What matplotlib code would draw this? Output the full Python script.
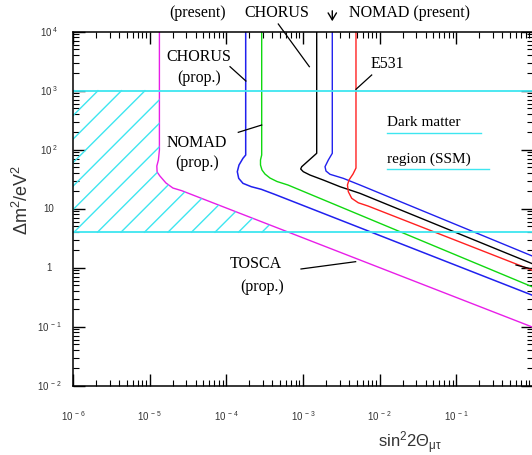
import numpy as np
import matplotlib
matplotlib.use("Agg")
import matplotlib.pyplot as plt
import matplotlib.patches as mpatches
from matplotlib.ticker import LogLocator, NullFormatter
from matplotlib.transforms import blended_transform_factory

plt.rcParams['mathtext.fontset'] = 'custom'
plt.rcParams['mathtext.rm'] = 'Liberation Sans'
plt.rcParams['mathtext.it'] = 'Liberation Sans:italic'
plt.rcParams['mathtext.bf'] = 'Liberation Sans:bold'
plt.rcParams['mathtext.default'] = 'regular'

# ---------------- data ----------------
tosca_x = [1.34e-5, 1.34e-5, 1.30e-5, 1.24e-5, 1.25e-5, 1.36e-5, 1.63e-5, 2.01e-5, 2.62e-5, 1.0]
tosca_y = [1e4, 98.9, 66.9, 52.9, 41.9, 35.8, 27.3, 22.4, 20.2, 0.0977]

chorus_prop_x = [1.789e-4, 1.789e-4, 1.648e-4, 1.463e-4, 1.390e-4, 1.450e-4, 1.648e-4, 2.117e-4, 2.858e-4, 4.275e-4, 1.0]
chorus_prop_y = [1e4, 81.3, 71.5, 55.0, 42.4, 32.7, 26.9, 23.6, 21.3, 17.5, 0.338]

nomad_prop_x = [2.892e-4, 2.892e-4, 2.790e-4, 2.790e-4, 2.918e-4, 3.192e-4, 3.709e-4, 4.58e-4, 6.37e-4, 1.0]
nomad_prop_y = [1e4, 81.3, 66.9, 55.0, 45.3, 38.7, 33.1, 28.9, 25.2, 0.469]

chorus_x = [1.509e-3, 1.509e-3, 9.62e-4, 9.33e-4, 1.009e-3, 1.234e-3, 1.840e-3, 3.04e-3, 5.54e-3, 1.0]
chorus_y = [1e4, 86.9, 51.5, 47.1, 42.4, 37.2, 30.6, 23.6, 18.2, 1.156]

nomad_x = [2.41e-3, 2.41e-3, 2.14e-3, 1.937e-3, 1.995e-3, 2.249e-3, 3.354e-3, 5.54e-3, 1.0]
nomad_y = [1e4, 86.9, 66.9, 51.5, 43.5, 38.3, 32.7, 25.2, 1.56]

e531_x = [4.91e-3, 4.91e-3, 4.49e-3, 3.98e-3, 3.80e-3, 3.90e-3, 4.32e-3, 5.26e-3, 7.05e-3, 1.0]
e531_y = [1e4, 48.9, 38.7, 30.6, 25.2, 19.4, 15.0, 12.6, 11.1, 0.893]

dm_band = [4.0, 1000.0]          # cyan horizontal lines (SSM dark-matter band)

xtick_vals = [1e-6, 1e-5, 1e-4, 1e-3, 1e-2, 1e-1]
xtick_labels = [r'10$^{\ -6}$', r'10$^{\ -5}$', r'10$^{\ -4}$', r'10$^{\ -3}$', r'10$^{\ -2}$', r'10$^{\ -1}$']
ytick_vals = [1e-2, 1e-1, 1, 10, 1e2, 1e3, 1e4]
ytick_labels = [r'10$^{\ -2}$', r'10$^{\ -1}$', '1', '10', r'10$^{\ 2}$', r'10$^{\ 3}$', r'10$^{\ 4}$']

# ---------------- figure ----------------
W, H = 532, 455
fig = plt.figure(figsize=(W / 100, H / 100), dpi=100)
ax_l, ax_b, ax_w, ax_h = 73, 455 - 385.7, 460, 354
ax = fig.add_axes([ax_l / W, ax_b / H, ax_w / W, ax_h / H])
ax.set_xscale('log')
ax.set_yscale('log')
ax.set_xlim(1e-6, 1)
ax.set_ylim(1e-2, 1e4)

CYAN = '#3ee6f0'
MAG = '#e81ee8'
BLUE = '#2020ee'
GREEN = '#10d810'
RED = '#ff2020'

# curves
ax.plot(tosca_x, tosca_y, color=MAG, lw=1.0)
ax.plot(chorus_prop_x, chorus_prop_y, color=BLUE, lw=1.1)
ax.plot(nomad_prop_x, nomad_prop_y, color=GREEN, lw=1.0)
ax.plot(chorus_x, chorus_y, color='black', lw=1.0)
ax.plot(nomad_x, nomad_y, color=BLUE, lw=1.0)
ax.plot(e531_x, e531_y, color=RED, lw=1.0)

# cyan band lines
for yv in dm_band:
    ax.axhline(yv, color=CYAN, lw=1.3)

# hatching between band and TOSCA curve
verts = list(zip(tosca_x, tosca_y)) + [(1e-8, tosca_y[-1]), (1e-8, tosca_y[0])]
clip = mpatches.Polygon(verts, closed=True, transform=ax.transData)
yb = (np.log10(dm_band[0]) + 2) / 6
yt = (np.log10(dm_band[1]) + 2) / 6
band_h = (yt - yb) * ax_h
for k in range(-8, 14):
    x0 = 1 + 23.5 * k
    ln, = ax.plot([x0 / ax_w, (x0 + band_h) / ax_w], [yb, yt], transform=ax.transAxes,
                  color=CYAN, lw=1.0)
    ln.set_clip_path(clip)

# ticks
ax.xaxis.set_major_locator(LogLocator(base=10, numticks=20))
ax.yaxis.set_major_locator(LogLocator(base=10, numticks=20))
ax.xaxis.set_minor_locator(LogLocator(base=10, subs=np.arange(2, 10), numticks=20))
ax.yaxis.set_minor_locator(LogLocator(base=10, subs=np.arange(2, 10), numticks=20))
ax.xaxis.set_minor_formatter(NullFormatter())
ax.yaxis.set_minor_formatter(NullFormatter())
ax.tick_params(which='both', direction='in', top=True, right=True,
               labelbottom=False, labelleft=False)
ax.tick_params(which='major', length=8.5, width=1.0)
ax.tick_params(which='minor', length=4.5, width=0.8)
for s in ax.spines.values():
    s.set_linewidth(1.1)

tick_font = dict(family='Liberation Sans', fontsize=7, color='#333333')
tx = blended_transform_factory(ax.transData, ax.transAxes)
for v, lab in zip(xtick_vals, xtick_labels):
    ax.text(v, -30 / ax_h, lab, transform=tx, ha='center', va='center', **tick_font)
ty = blended_transform_factory(ax.transAxes, ax.transData)
for v, lab in zip(ytick_vals, ytick_labels):
    ax.text(-24 / ax_w, v, lab, transform=ty, ha='center', va='center', **tick_font)

# axis labels
fig.text(21.5 / W, 1 - 200 / H, 'Δm$^2$/eV$^2$', rotation=90, ha='center', va='center',
         family='Liberation Sans', fontsize=13, color='#333333')
fig.text(410 / W, 1 - 448 / H, r'sin$^2$2$\Theta_{\mu\tau}$', ha='center', va='baseline',
         family='Liberation Sans', fontsize=12, color='#333333')

# annotations
serif = dict(family='Liberation Serif', fontsize=11.5, color='black')
ax.text(4.27e-5, 1.0528, '(present)', transform=tx, ha='center', va='center', **serif)
ax.text(4.58e-4, 1.0528, 'CHORUS', transform=tx, ha='center', va='center', **serif)
ax.text(2.486e-2, 1.0528, 'NOMAD (present)', transform=tx, ha='center', va='center', **serif)
ax.text(4.40e-5, 3725, 'CHORUS', ha='center', va='center', **serif)
ax.text(4.40e-5, 1641, '(prop.)', ha='center', va='center', **serif)
ax.text(4.14e-5, 130, 'NOMAD', ha='center', va='center', **serif)
ax.text(4.14e-5, 59.6, '(prop.)', ha='center', va='center', **serif)
ax.text(1.265e-2, 2835, 'E531', ha='center', va='center', **serif)
ax.text(2.40e-4, 1.142, 'TOSCA', ha='center', va='center', **serif)
ax.text(2.92e-4, 0.476, '(prop.)', ha='center', va='center', **serif)
ax.text(1.246e-2, 287, 'Dark matter', ha='left', va='center', family='Liberation Serif', fontsize=11)
ax.text(1.246e-2, 68.7, 'region (SSM)', ha='left', va='center', family='Liberation Serif', fontsize=11)
ax.plot([1.246e-2, 0.2097], [190, 190], color=CYAN, lw=1.0)
ax.plot([1.246e-2, 0.2667], [46.6, 46.6], color=CYAN, lw=1.0)

# pointer lines
pointers = [((4.76e-4, 1.35e4), (1.21e-3, 2553)),
            ((1.117e-4, 2553), (1.80e-4, 1459)),
            ((1.432e-4, 197), (2.89e-4, 262)),
            ((7.87e-3, 1845), (4.91e-3, 1057)),
            ((9.42e-4, 0.951), (4.86e-3, 1.265)),
            ((0.600, 1.11), (0.886, 0.977))]
for (x1, y1), (x2, y2) in pointers:
    ax.plot([x1, x2], [y1, y2], color='black', lw=0.9, clip_on=False)

# arrow pointing to NOMAD (present)
ax.annotate('', xy=(2.41e-3, 1.0218), xytext=(2.41e-3, 1.0669), xycoords=tx, textcoords=tx,
            arrowprops=dict(arrowstyle='->,head_length=0.5,head_width=0.3', lw=1.0, color='black'),
            annotation_clip=False)

fig.savefig('out.png', dpi=100)
